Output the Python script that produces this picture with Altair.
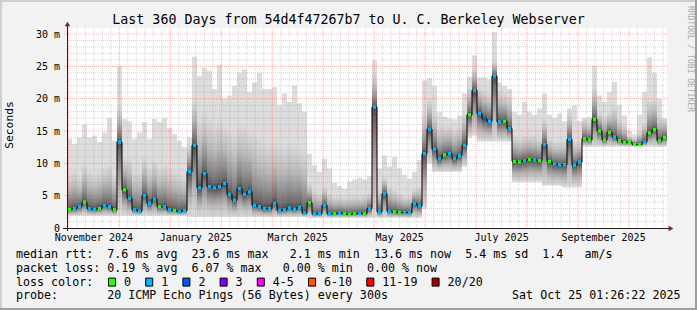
import altair as alt
import pandas as pd

# ---------------- data (3-day bins over 360 days, values in ms) ----------------
med = [2.9, 3.0, 3.3, 4.0, 3.0, 2.9, 3.0, 3.5, 3.3, 2.8, 13.3, 5.9, 4.6, 2.8, 2.6, 5.0, 3.8, 4.5, 3.3, 3.3,
       2.8, 2.7, 2.5, 2.7, 8.7, 12.8, 6.2, 8.4, 6.4, 6.2, 6.4, 6.9, 5.2, 4.3, 6.1, 5.2, 5.6, 3.5, 3.3, 3.0,
       3.0, 3.8, 2.7, 2.8, 3.1, 2.9, 3.2, 2.3, 3.9, 2.2, 2.2, 3.5, 2.2, 2.2, 2.3, 2.2, 2.1, 2.2, 2.3, 2.2,
       3.0, 18.7, 2.5, 5.3, 2.6, 2.5, 2.4, 2.4, 2.4, 3.8, 3.4, 11.5, 15.3, 12.2, 10.7, 11.3, 11.5, 10.7, 11.2, 12.8,
       17.5, 21.3, 17.7, 16.9, 16.5, 23.5, 16.4, 16.5, 15.4, 10.3, 10.2, 10.4, 10.6, 10.5, 10.4, 12.9, 10.3, 9.9, 9.8, 9.8,
       13.7, 9.7, 10.2, 13.8, 13.6, 16.8, 15.0, 13.6, 14.8, 14.1, 13.5, 13.2, 13.3, 12.9, 12.9, 13.3, 14.7, 15.2, 13.5, 14.0]
hi = [13.8, 13.0, 14.0, 16.0, 14.0, 14.3, 13.3, 14.8, 17.0, 13.5, 25.0, 16.9, 16.5, 13.8, 14.8, 16.4, 13.8, 16.9, 16.4, 17.0,
      15.5, 14.5, 13.5, 12.5, 14.0, 26.5, 23.5, 24.8, 24.3, 21.5, 25.2, 20.0, 20.5, 22.0, 24.0, 24.5, 21.0, 22.5, 24.0, 21.5,
      21.5, 21.8, 19.0, 20.8, 19.5, 22.0, 19.3, 18.0, 11.5, 9.7, 8.7, 10.7, 9.2, 7.0, 6.5, 6.1, 7.2, 7.5, 7.8, 7.5,
      8.0, 25.9, 9.2, 11.2, 9.5, 11.0, 9.2, 8.2, 7.6, 8.7, 10.5, 22.8, 23.2, 22.0, 17.9, 17.2, 17.0, 16.8, 17.4, 20.8,
      23.4, 26.7, 23.3, 23.3, 23.0, 30.3, 22.5, 22.0, 21.5, 18.0, 17.5, 19.5, 18.0, 17.5, 18.5, 20.8, 17.5, 17.0, 17.7, 16.5,
      18.5, 19.0, 16.5, 16.9, 17.2, 25.1, 20.5, 19.5, 21.0, 22.6, 19.0, 17.4, 15.0, 14.5, 17.5, 21.0, 26.4, 24.0, 20.0, 17.0]
up = [8.5, 9.0, 8.0, 10.0, 9.0, 8.5, 9.0, 9.5, 10.0, 8.5, 19.0, 11.0, 11.0, 9.0, 9.0, 11.0, 9.5, 10.5, 9.5, 10.0,
      9.5, 9.0, 8.5, 8.0, 13.0, 20.0, 17.0, 18.0, 17.0, 16.0, 17.0, 16.0, 15.5, 15.0, 16.0, 16.0, 15.0, 15.0, 14.0, 13.5,
      13.0, 13.5, 13.0, 13.0, 13.5, 13.0, 12.5, 12.0, 7.0, 6.0, 5.5, 6.5, 5.5, 5.0, 5.0, 4.8, 5.0, 5.0, 5.0, 5.2,
      5.5, 24.0, 6.0, 8.0, 6.5, 6.0, 5.5, 5.0, 5.0, 6.0, 6.5, 18.0, 20.0, 18.0, 16.0, 16.0, 16.0, 15.5, 16.0, 18.0,
      22.0, 25.0, 22.0, 21.5, 21.0, 26.0, 21.5, 21.0, 20.5, 14.5, 14.0, 14.5, 14.5, 14.5, 14.0, 17.0, 14.0, 13.5, 13.5, 13.5,
      18.0, 13.5, 13.5, 17.0, 16.5, 22.0, 18.0, 17.5, 18.0, 19.0, 17.0, 16.0, 14.2, 14.0, 15.0, 16.5, 20.0, 20.0, 17.5, 17.0]
lo = [1.9] * 24 + [1.7] * 24 + [1.6] * 23 + [3.0, 10.0, 8.7, 8.7, 8.7, 8.7, 8.7, 8.7, 9.5] + \
     [14.0, 14.3, 13.4, 13.4, 13.4, 13.4, 13.4, 13.4, 13.4] + [7.1] * 6 + [6.6] * 4 + [6.3] * 4 + [12.6] * 17
loss = [0, 1, 1, 0, 1, 1, 0, 1, 1, 0, 1, 0, 1, 1, 1, 1, 1, 1, 0, 1,
        1, 0, 1, 1, 1, 1, 1, 1, 1, 1, 1, 1, 1, 1, 1, 1, 1, 1, 1, 1,
        1, 1, 1, 1, 1, 1, 1, 1, 0, 1, 1, 1, 1, 0, 1, 0, 0, 0, 1, 0,
        1, 1, 1, 1, 1, 0, 0, 1, 1, 1, 1, 1, 1, 1, 1, 0, 1, 1, 1, 1,
        0, 1, 1, 2, 1, 1, 1, 0, 1, 0, 0, 1, 0, 1, 0, 1, 0, 1, 1, 1,
        1, 1, 1, 0, 0, 0, 0, 0, 0, 1, 0, 0, 0, 0, 0, 1, 0, 0, 0, 0]

x_labels = ["November 2024", "January 2025", "March 2025", "May 2025", "July 2025", "September 2025"]
y_ticks = [0, 5, 10, 15, 20, 25, 30]
loss_names = ["0", "1", "2", "3", "4-5", "6-10", "11-19", "20/20"]
loss_colors = ["#26ff00", "#00b8ff", "#0059ff", "#7e00ff", "#ff00ff", "#ff5500", "#ff0000", "#a10000"]

title = "Last 360 Days from 54d4f47267b7 to U. C. Berkeley Webserver"
legend_lines = [
    "median rtt:  7.6 ms avg  23.6 ms max   2.1 ms min  13.6 ms now  5.4 ms sd  1.4   am/s",
    "packet loss: 0.19 % avg  6.07 % max   0.00 % min  0.00 % now",
    "loss color:",
    "probe:       20 ICMP Echo Pings (56 Bytes) every 300s",
]
stamp = "Sat Oct 25 01:26:22 2025"

# ---------------- layout / style ----------------
MONO = "DejaVu Sans Mono"
W, H = 600, 200
DAYS = 360
BIN = 3
YMAX = 30.93
NB = "\u00a0"

def keep_spaces(s):
    return s.replace(" ", NB)

n = len(med)
df = pd.DataFrame({
    "d0": [BIN * i for i in range(n)],
    "d1": [BIN * i + BIN for i in range(n)],
    "dc": [BIN * i + BIN / 2 for i in range(n)],
    "med": med, "hi": hi, "up": up, "lo": lo,
    "cls": [loss_names[v] for v in loss],
})

xs = alt.Scale(domain=[0, DAYS], nice=False, zero=False)
ys = alt.Scale(domain=[0, YMAX], nice=False)
cs = alt.Scale(domain=loss_names, range=loss_colors)

base = alt.Chart(df)

light = base.mark_rect(color="#dddddd").encode(
    x=alt.X("d0:Q", scale=xs, axis=None), x2="d1",
    y=alt.Y("lo:Q", scale=ys, axis=None), y2="hi")

grad_low = alt.LinearGradient(gradient="linear", x1=0, x2=0, y1=0, y2=1, stops=[
    alt.GradientStop(color="#454545", offset=0), alt.GradientStop(color="#6b6b6b", offset=0.15),
    alt.GradientStop(color="#919191", offset=0.35), alt.GradientStop(color="#b7b7b7", offset=0.6),
    alt.GradientStop(color="#dddddd", offset=1)])
grad_up = alt.LinearGradient(gradient="linear", x1=0, x2=0, y1=1, y2=0, stops=[
    alt.GradientStop(color="#454545", offset=0), alt.GradientStop(color="#6b6b6b", offset=0.1),
    alt.GradientStop(color="#919191", offset=0.3), alt.GradientStop(color="#b7b7b7", offset=0.55),
    alt.GradientStop(color="#cacaca", offset=0.75), alt.GradientStop(color="#dddddd", offset=1)])

lower = base.mark_rect(color=grad_low).encode(
    x=alt.X("d0:Q", scale=xs, axis=None), x2="d1",
    y=alt.Y("lo:Q", scale=ys, axis=None), y2="med")
upper = base.mark_rect(color=grad_up).encode(
    x=alt.X("d0:Q", scale=xs, axis=None), x2="d1",
    y=alt.Y("med:Q", scale=ys, axis=None), y2="up")

# grid
major_x = [0.82 + 30.58 * k for k in range(12)]
minor_x = [0.82 + 30.58 / 6 * j for j in range(72) if j % 6 != 0 and 0.82 + 30.58 / 6 * j < DAYS]
minor_y = [v for v in range(1, 31) if v % 5 != 0]
major_y = [5, 10, 15, 20, 25, 30]

def hgrid(vals, color, op, x0=0, x1=W):
    return alt.Chart(pd.DataFrame({"v": vals})).mark_rule(
        color=color, opacity=op, strokeDash=[1, 1], strokeWidth=1).encode(
        y=alt.Y("v:Q", scale=ys, axis=None), x=alt.value(x0), x2=alt.value(x1))

def vgrid(vals, color, op, y0=0, y1=H):
    return alt.Chart(pd.DataFrame({"v": vals})).mark_rule(
        color=color, opacity=op, strokeDash=[1, 1], strokeWidth=1).encode(
        x=alt.X("v:Q", scale=xs, axis=None), y=alt.value(y0), y2=alt.value(y1))

grid_layers = [hgrid(minor_y, "#8f8f8f", 0.35), vgrid(minor_x, "#8f8f8f", 0.35),
               hgrid(major_y, "#de4f4f", 0.45, -3, W), vgrid(major_x, "#de4f4f", 0.45, 0, H + 2)]

mline = base.mark_line(interpolate="step", color="black", strokeWidth=1).encode(
    x=alt.X("dc:Q", scale=xs, axis=None), y=alt.Y("med:Q", scale=ys, axis=None))
dots = base.mark_square(size=11, opacity=1).encode(
    x=alt.X("dc:Q", scale=xs, axis=None), y=alt.Y("med:Q", scale=ys, axis=None),
    color=alt.Color("cls:N", scale=cs, legend=None))

one = alt.Chart(pd.DataFrame({"k": [0]}))
deco = [
    one.mark_rule(color="#1f1f1f", strokeWidth=1).encode(x=alt.value(-4), x2=alt.value(602),
                                                           y=alt.value(H + 0.5)),
    one.mark_rule(color="#1f1f1f", strokeWidth=1).encode(x=alt.value(0.5), y=alt.value(-2),
                                                           y2=alt.value(H + 3)),
    one.mark_point(shape="triangle-right", filled=True, size=30, color="#801f1f", opacity=1).encode(
        x=alt.value(604), y=alt.value(H + 0.5)),
    one.mark_point(shape="triangle-up", filled=True, size=30, color="#801f1f", opacity=1).encode(
        x=alt.value(0.5), y=alt.value(-4)),
    # frame shading
    one.mark_rule(color="#cfcfcf", strokeWidth=2).encode(x=alt.value(-67), x2=alt.value(630), y=alt.value(-27)),
    one.mark_rule(color="#cfcfcf", strokeWidth=2).encode(y=alt.value(-28), y2=alt.value(282), x=alt.value(-66)),
    one.mark_rule(color="#9e9e9e", strokeWidth=2).encode(x=alt.value(-67), x2=alt.value(630), y=alt.value(281)),
    one.mark_rule(color="#9e9e9e", strokeWidth=2).encode(y=alt.value(-28), y2=alt.value(282), x=alt.value(629)),
]

texts = [
    one.mark_text(text=title, font=MONO, fontSize=13.3, align="center", baseline="alphabetic",
                  color="black").encode(x=alt.value(281.5), y=alt.value(-4)),
    one.mark_text(text="Seconds", font=MONO, fontSize=11.3, angle=270, align="center",
                  baseline="middle", color="black").encode(x=alt.value(-57), y=alt.value(97)),
    one.mark_text(text="RRDTOOL / TOBI OETIKER", font=MONO, fontSize=8, angle=90, align="center",
                  baseline="middle", color="#a8a8a8").encode(x=alt.value(623), y=alt.value(31)),
]
yl = pd.DataFrame({"v": y_ticks, "label": ["0" if v == 0 else f"{v}{NB}m" for v in y_ticks]})
texts.append(alt.Chart(yl).mark_text(font=MONO, fontSize=10, align="right", baseline="middle",
                                     dy=0.5, color="black").encode(
    y=alt.Y("v:Q", scale=ys, axis=None), x=alt.value(-7), text="label:N"))
xl = pd.DataFrame({"label": [keep_spaces(s) for s in x_labels],
                   "pos": [0.82 + 30.58 / 2 + 61.16 * m for m in range(len(x_labels))]})
texts.append(alt.Chart(xl).mark_text(font=MONO, fontSize=10, align="center", baseline="alphabetic",
                                     color="black").encode(
    x=alt.X("pos:Q", scale=xs, axis=None), y=alt.value(213), text="label:N"))

LEG_FS = 11.66
CW = 0.602 * LEG_FS
row_y = [230.3 + 13.65 * k for k in range(len(legend_lines))]
for k, line in enumerate(legend_lines):
    texts.append(one.mark_text(text=keep_spaces(line), font=MONO, fontSize=LEG_FS, align="left",
                               baseline="alphabetic", color="black").encode(
        x=alt.value(-51), y=alt.value(row_y[k])))
texts.append(one.mark_text(text=keep_spaces(stamp), font=MONO, fontSize=LEG_FS, align="right",
                           baseline="alphabetic", color="black").encode(
    x=alt.value(613.5), y=alt.value(row_y[3])))

bx = 108 - 67
for name, col in zip(loss_names, loss_colors):
    texts.append(one.mark_rect(color=col, stroke="black", strokeWidth=1).encode(
        x=alt.value(bx + 0.5), x2=alt.value(bx + 7.5),
        y=alt.value(row_y[2] - 7.5), y2=alt.value(row_y[2] + 0.5)))
    texts.append(one.mark_text(text=name, font=MONO, fontSize=LEG_FS, align="left",
                               baseline="alphabetic", color="black").encode(
        x=alt.value(bx + 16), y=alt.value(row_y[2])))
    bx += (len(name) + 4.3) * CW

chart = alt.layer(light, lower, upper, *grid_layers, mline, dots, *deco, *texts).properties(
    width=W, height=H,
    padding={"left": 67, "top": 28, "right": 30, "bottom": 82},
    autosize=alt.AutoSizeParams(type="none"),
).configure(background="#f2f2f2").configure_view(stroke=None, fill="white")

chart.save("out.html", embed_options={"renderer": "svg", "actions": False})
